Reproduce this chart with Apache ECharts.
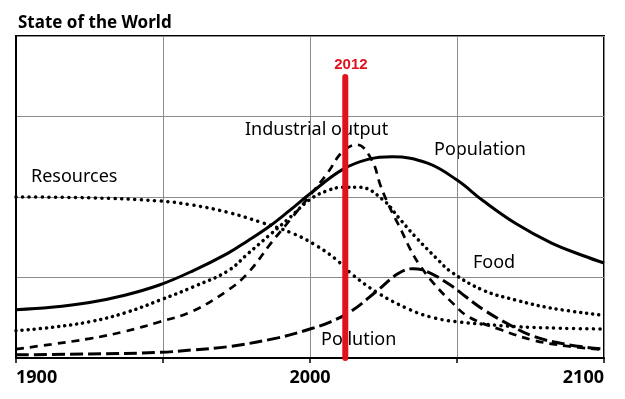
<!DOCTYPE html>
<html>
<head>
<meta charset="utf-8">
<script src="https://cdn.jsdelivr.net/npm/echarts@6/dist/echarts.min.js"></script>
<style>
  html, body { margin: 0; padding: 0; background: #fff; }
  #chart { width: 625px; height: 399px; }
</style>
</head>
<body>
<div id="chart"></div>
<script>
// values, y in grid units (0..4)
var xTicks = [1900, 2000, 2100]
var population = [[1900,0.60],[1912,0.63],[1925,0.69],[1937,0.78],[1949,0.91],[1960,1.08],[1972,1.30],[1979,1.46],[1986,1.63],[1993,1.83],[2000,2.04],[2011,2.34],[2020,2.47],[2028,2.50],[2040,2.42],[2050,2.21],[2059,1.95],[2070,1.67],[2082,1.43],[2093,1.27],[2100,1.18]]
var industrial = [[1900,0.11],[1912,0.17],[1925,0.24],[1937,0.33],[1949,0.45],[1960,0.58],[1972,0.84],[1979,1.06],[1987,1.44],[1994,1.75],[2000,2.02],[2006,2.30],[2011,2.56],[2016,2.65],[2021,2.46],[2024,2.14],[2027,1.88],[2031,1.59],[2034,1.36],[2037,1.17],[2042,0.93],[2048,0.70],[2054,0.51],[2065,0.35],[2076,0.22],[2087,0.15],[2100,0.10]]
var food = [[1900,0.34],[1912,0.38],[1925,0.45],[1937,0.56],[1949,0.72],[1960,0.88],[1972,1.08],[1979,1.30],[1986,1.52],[1993,1.74],[2000,1.97],[2006,2.08],[2011,2.12],[2017,2.12],[2025,1.96],[2030,1.75],[2036,1.50],[2043,1.24],[2048,1.07],[2059,0.84],[2070,0.72],[2082,0.62],[2100,0.53]]
var resources = [[1900,2.00],[1925,1.99],[1949,1.95],[1960,1.90],[1972,1.81],[1983,1.69],[1994,1.55],[2002,1.40],[2009,1.22],[2014,1.05],[2023,0.81],[2034,0.60],[2042,0.50],[2050,0.45],[2059,0.42],[2070,0.39],[2085,0.37],[2100,0.36]]
var pollution = [[1900,0.04],[1925,0.05],[1949,0.07],[1960,0.10],[1972,0.14],[1989,0.25],[2000,0.36],[2007,0.45],[2014,0.58],[2023,0.84],[2030,1.05],[2035,1.11],[2040,1.07],[2048,0.90],[2053,0.76],[2059,0.60],[2068,0.41],[2076,0.27],[2087,0.17],[2100,0.11]]
var marker = [[2012,0],[2012,3.49]]

var chart = echarts.init(document.getElementById('chart'))
var font = 'Noto Sans'
var labelFont = '18px "Noto Sans"'

function curve(name, data, width, dash, cap) {
    return {
        name: name,
        type: 'line',
        data: data,
        smooth: 0.4,
        showSymbol: false,
        silent: true,
        lineStyle: { color: '#000', width: width, type: dash, cap: cap || 'butt' },
        z: 3
    }
}

chart.setOption({
    animation: false,
    title: {
        text: 'State of the World',
        left: 13,
        top: 10,
        textStyle: { fontFamily: font, fontWeight: 'bold', fontSize: 17, color: '#000' }
    },
    grid: {
        left: 16, right: 21, top: 36, bottom: 41,
        show: true, borderColor: '#000', borderWidth: 2
    },
    xAxis: {
        type: 'value', min: 1900, max: 2100, interval: 50,
        axisLine: { show: true, lineStyle: { color: '#000', width: 2 } },
        axisTick: { show: true, length: 5, lineStyle: { color: '#000', width: 1.5 } },
        axisLabel: {
            fontFamily: font, fontWeight: 'bold', fontSize: 18, color: '#000', margin: 11,
            alignMinLabel: 'left', alignMaxLabel: 'right',
            formatter: function (v) { return xTicks.indexOf(v) >= 0 ? String(v) : '' }
        },
        splitLine: { show: true, lineStyle: { color: '#8c8c8c', width: 1 } }
    },
    yAxis: {
        type: 'value', min: 0, max: 4, interval: 1,
        axisLine: { show: true, lineStyle: { color: '#000', width: 2 } },
        axisTick: { show: false },
        axisLabel: { show: false },
        splitLine: { show: true, lineStyle: { color: '#8c8c8c', width: 1 } }
    },
    graphic: [
        { type: 'text', left: 245, top: 121, style: { text: 'Industrial output', font: labelFont, fill: '#000' } },
        { type: 'text', left: 434, top: 141, style: { text: 'Population', font: labelFont, fill: '#000' } },
        { type: 'text', left: 31, top: 168, style: { text: 'Resources', font: labelFont, fill: '#000' } },
        { type: 'text', left: 473, top: 254, style: { text: 'Food', font: labelFont, fill: '#000' } },
        { type: 'text', left: 321, top: 331, style: { text: 'Pollution', font: labelFont, fill: '#000' } }
    ],
    series: [
        curve('Population', population, 3, 'solid'),
        curve('Industrial output', industrial, 2.7, [8, 6]),
        curve('Food', food, 3.5, [0.1, 6], 'round'),
        curve('Resources', resources, 3.5, [0.1, 6.5], 'round'),
        curve('Pollution', pollution, 3, [13, 5]),
        {
            name: '2012',
            type: 'line',
            data: marker,
            showSymbol: false,
            silent: true,
            lineStyle: { color: '#e0121b', width: 6, cap: 'round' },
            label: { show: false },
            endLabel: {
                show: true, formatter: '2012', color: '#e0121b',
                fontFamily: 'Liberation Sans', fontWeight: 'bold', fontSize: 15,
                offset: [-19, -12]
            },
            z: 4
        }
    ]
})
</script>
</body>
</html>
